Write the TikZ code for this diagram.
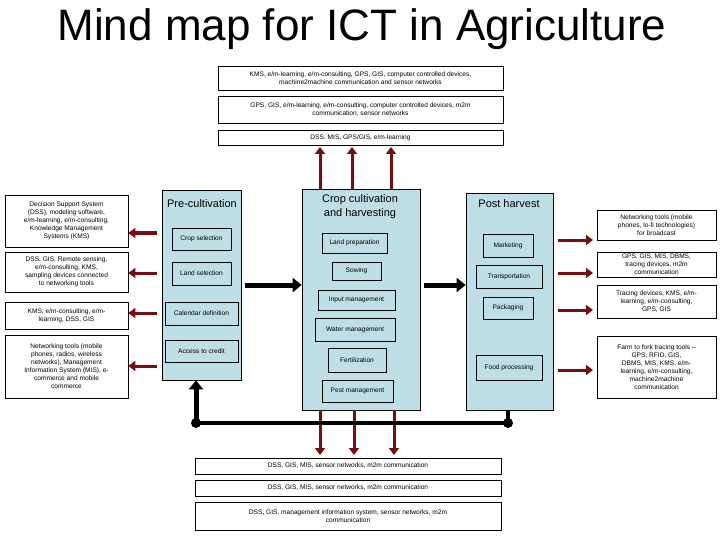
\documentclass[tikz,border=0pt]{standalone}
\usepackage{fontspec}
\setmainfont{Liberation Sans}
\usetikzlibrary{arrows.meta}
\definecolor{stageblue}{HTML}{BEDFE5}
\definecolor{darkred}{HTML}{7A0C0C}
\begin{document}
\begin{tikzpicture}[x=1pt,y=-1pt,
  tbox/.style={draw,line width=0.7pt,fill=white,inner sep=1pt,align=center,font=\fontsize{6.6}{8}\selectfont},
  stage/.style={draw,line width=0.7pt,fill=stageblue,inner sep=0pt},
  sub/.style={draw,line width=0.7pt,fill=stageblue,inner sep=1pt,align=center,font=\fontsize{6.6}{8}\selectfont},
  stitle/.style={align=center,font=\fontsize{11}{14}\selectfont},
  redarr/.style={draw=darkred,line width=3pt,-{Triangle[length=7pt,width=10pt]}},
  blackarr/.style={draw=black,line width=5pt,-{Triangle[length=9pt,width=14pt]}},
  thick line/.style={draw=black,line width=4pt}]
\useasboundingbox (0,0) rectangle (720,540);
\fill[white] (0,0) rectangle (720,540);
\node[font=\fontsize{44}{48}\selectfont] (title) at (362,29) {Mind map for ICT in Agriculture};
% top boxes
\node[tbox,minimum width=285pt,minimum height=24pt] (t1) at (360.5,78) {KMS, e/m-learning, e/m-consulting, GPS, GIS, computer controlled devices,\\machine2machine communication and sensor networks};
\node[tbox,minimum width=285pt,minimum height=27pt] (t2) at (360.5,109.5) {GPS, GIS, e/m-learning, e/m-consulting, computer controlled devices, m2m\\communication, sensor networks};
\node[tbox,minimum width=285pt,minimum height=15pt] (t3) at (360.5,137.5) {DSS, MIS, GPS/GIS, e/m-learning};
% stages
\node[stage,minimum width=79pt,minimum height=190pt] (pre) at (201.5,285) {};
\node[stitle] (pret) at (202,204) {Pre-cultivation};
\node[sub,minimum width=59pt,minimum height=22pt] (cropsel) at (201.5,239) {Crop selection};
\node[sub,minimum width=59pt,minimum height=23pt] (landsel) at (201.5,273.5) {Land selection};
\node[sub,minimum width=73pt,minimum height=23pt] (cal) at (201.5,313.5) {Calendar definition};
\node[sub,minimum width=73pt,minimum height=22pt] (credit) at (201.5,351) {Access to credit};
\node[stage,minimum width=118pt,minimum height=221pt] (crop) at (361,299.5) {};
\node[stitle] (cropt) at (360,207) {Crop cultivation\\and harvesting};
\node[sub,minimum width=65pt,minimum height=20pt] (landprep) at (354.5,243) {Land preparation};
\node[sub,minimum width=49pt,minimum height=18pt] (sowing) at (356.5,271) {Sowing};
\node[sub,minimum width=77pt,minimum height=20pt] (input) at (356.5,300) {Input management};
\node[sub,minimum width=80pt,minimum height=23pt] (water) at (355,329.5) {Water management};
\node[sub,minimum width=58pt,minimum height=24pt] (fert) at (357,360) {Fertilization};
\node[sub,minimum width=71pt,minimum height=22pt] (pest) at (357.5,391) {Pest management};
\node[stage,minimum width=87pt,minimum height=217pt] (post) at (509.5,301.5) {};
\node[stitle] (postt) at (509,204) {Post harvest};
\node[sub,minimum width=50pt,minimum height=23pt] (mkt) at (508,245.5) {Marketing};
\node[sub,minimum width=66pt,minimum height=23pt] (trans) at (509,276.5) {Transportation};
\node[sub,minimum width=50pt,minimum height=22pt] (pack) at (508,308) {Packaging};
\node[sub,minimum width=66pt,minimum height=25pt] (food) at (509,367.5) {Food processing};
% left boxes
\node[tbox,minimum width=123pt,minimum height=52pt] (l1) at (66.5,221) {Decision Support System\\(DSS), modeling software,\\e/m-learning, e/m-consulting,\\Knowledge Management\\Systems (KMS)};
\node[tbox,minimum width=123pt,minimum height=40pt] (l2) at (66.5,272) {DSS, GIS, Remote sensing,\\e/m-consulting, KMS,\\sampling devices connected\\to networking tools};
\node[tbox,minimum width=123pt,minimum height=27pt] (l3) at (66.5,315.5) {KMS, e/m-consulting, e/m-\\learning, DSS, GIS};
\node[tbox,minimum width=123pt,minimum height=63pt] (l4) at (66.5,366.5) {Networking tools (mobile\\phones, radios, wireless\\networks), Management\\Information System (MIS), e-\\commerce and mobile\\commerce};
% right boxes
\node[tbox,minimum width=119pt,minimum height=30pt] (r1) at (656.5,225) {Networking tools (mobile\\phones, lo-fi technologies)\\for broadcast};
\node[tbox,minimum width=119pt,minimum height=25pt] (r2) at (656.5,264.5) {GPS, GIS, MIS, DBMS,\\tracing devices, m2m\\communication};
\node[tbox,minimum width=119pt,minimum height=33pt] (r3) at (656.5,301.5) {Tracing devices, KMS, e/m-\\learning, e/m-consulting,\\GPS, GIS};
\node[tbox,minimum width=119pt,minimum height=62pt] (r4) at (656.5,367) {Farm to fork tracing tools --\\GPS, RFID, GIS,\\DBMS, MIS, KMS, e/m-\\learning, e/m-consulting,\\machine2machine\\communication};
% bottom boxes
\node[tbox,minimum width=306pt,minimum height=16pt] (b1) at (348,466) {DSS, GIS, MIS, sensor networks, m2m communication};
\node[tbox,minimum width=306pt,minimum height=16pt] (b2) at (348,488) {DSS, GIS, MIS, sensor networks, m2m communication};
\node[tbox,minimum width=306pt,minimum height=28pt] (b3) at (348,516) {DSS, GIS, management information system, sensor networks, m2m\\communication};
% red arrows up
\foreach \x in {320,352,391}{
  \draw[redarr] (\x,189) -- (\x,147);
}
% red arrows down
\foreach \x in {320,354,394}{
  \draw[redarr] (\x,410) -- (\x,455);
}
% red arrows left
\foreach \y/\b in {233/l1,273/l2,313/l3,366/l4}{
  \draw[redarr] (157,\y) -- (\b.east |- 0,\y);
}
% red arrows right
\foreach \y in {240,273,310,370}{
  \draw[redarr] (558,\y) -- (593,\y);
}
% black arrows
\draw[blackarr] (245,285) -- (crop.west |- 0,285);
\draw[blackarr] (424,285) -- (post.west |- 0,285);
% feedback loop
\coordinate (dl) at (196,423);
\coordinate (dr) at (508,423);
\draw[thick line] (dl) -- (dr);
\draw[thick line] (dr) -- (post.south -| dr);
\draw[blackarr] (dl) -- (pre.south -| dl);
\fill (dl) circle (5pt);
\fill (dr) circle (5pt);
\end{tikzpicture}
\end{document}
